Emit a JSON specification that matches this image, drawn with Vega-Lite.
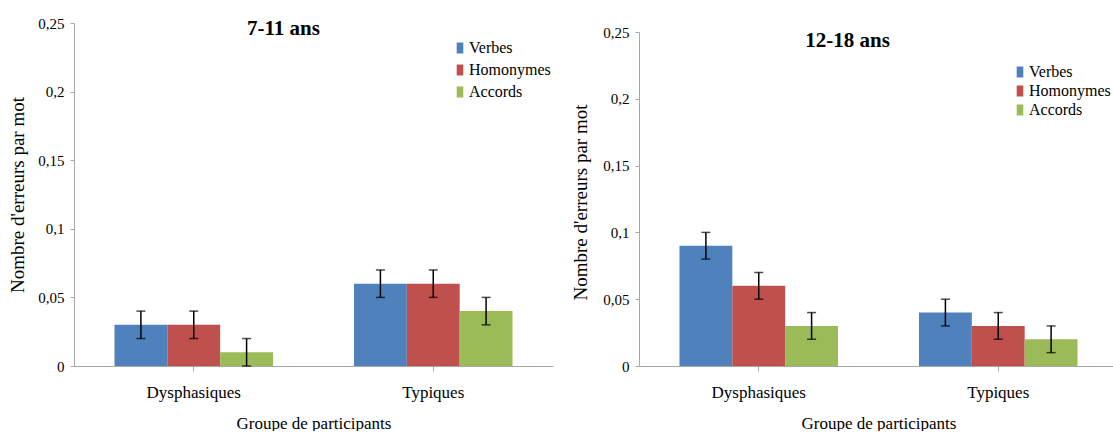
{
  "$schema": "https://vega.github.io/schema/vega-lite/v6.json",
  "padding": {"left": 8, "top": 16, "right": 0, "bottom": 0},
  "background": "white",
  "spacing": 18,
  "config": {
    "font": "Liberation Serif",
    "view": {"stroke": null},
    "axis": {"labelColor": "black", "titleColor": "black", "domainColor": "#A6A6A6", "tickColor": "#A6A6A6", "grid": false, "titleFontWeight": "normal", "labelFont": "Liberation Serif", "titleFont": "Liberation Serif"},
    "legend": {"labelFont": "Liberation Serif", "labelColor": "black"},
    "style": {"guide-label": {"font": "Liberation Serif"}, "guide-title": {"font": "Liberation Serif"}}
  },
  "datasets": {
    "d": [
      {"panel": "7-11", "groupe": "Dysphasiques", "type": "Verbes", "valeur": 0.03, "bas": 0.02, "haut": 0.04},
      {"panel": "7-11", "groupe": "Dysphasiques", "type": "Homonymes", "valeur": 0.03, "bas": 0.02, "haut": 0.04},
      {"panel": "7-11", "groupe": "Dysphasiques", "type": "Accords", "valeur": 0.01, "bas": 0.0, "haut": 0.02},
      {"panel": "7-11", "groupe": "Typiques", "type": "Verbes", "valeur": 0.06, "bas": 0.05, "haut": 0.07},
      {"panel": "7-11", "groupe": "Typiques", "type": "Homonymes", "valeur": 0.06, "bas": 0.05, "haut": 0.07},
      {"panel": "7-11", "groupe": "Typiques", "type": "Accords", "valeur": 0.04, "bas": 0.03, "haut": 0.05},
      {"panel": "12-18", "groupe": "Dysphasiques", "type": "Verbes", "valeur": 0.09, "bas": 0.08, "haut": 0.10},
      {"panel": "12-18", "groupe": "Dysphasiques", "type": "Homonymes", "valeur": 0.06, "bas": 0.05, "haut": 0.07},
      {"panel": "12-18", "groupe": "Dysphasiques", "type": "Accords", "valeur": 0.03, "bas": 0.02, "haut": 0.04},
      {"panel": "12-18", "groupe": "Typiques", "type": "Verbes", "valeur": 0.04, "bas": 0.03, "haut": 0.05},
      {"panel": "12-18", "groupe": "Typiques", "type": "Homonymes", "valeur": 0.03, "bas": 0.02, "haut": 0.04},
      {"panel": "12-18", "groupe": "Typiques", "type": "Accords", "valeur": 0.02, "bas": 0.01, "haut": 0.03}
    ]
  },
  "hconcat": [
    {
      "width": 479,
      "height": 343,
      "data": {"name": "d"},
      "transform": [{"filter": "datum.panel === '7-11'"}],
      "title": {"text": "7-11 ans", "frame": "group", "anchor": "middle", "offset": 0, "baseline": "alphabetic", "dy": 40, "dx": -30, "font": "Liberation Serif", "fontSize": 21, "fontWeight": "bold", "color": "black"},
      "encoding": {
        "x": {"field": "groupe", "type": "nominal", "sort": ["Dysphasiques", "Typiques"], "scale": {"paddingInner": 0, "paddingOuter": 0},
          "axis": {"title": "Groupe de participants", "labelAngle": 0, "labelFont": "Liberation Serif", "titleFont": "Liberation Serif", "labelFontSize": 17, "titleFontSize": 17, "tickSize": 5, "labelPadding": 13, "titlePadding": 15}},
        "xOffset": {"field": "type", "sort": ["Verbes", "Homonymes", "Accords"], "scale": {"paddingInner": 0, "paddingOuter": 0.766}}
      },
      "layer": [
        {
          "mark": {"type": "bar"},
          "encoding": {
            "y": {"field": "valeur", "type": "quantitative", "scale": {"domain": [0, 0.25], "nice": false},
              "axis": {"title": "Nombre d'erreurs par mot", "labelFont": "Liberation Serif", "titleFont": "Liberation Serif", "values": [0, 0.05, 0.1, 0.15, 0.2, 0.25], "labelExpr": "replace(format(datum.value, '~g'), '.', ',')", "tickSize": 4, "labelPadding": 6, "labelFontSize": 15, "titleFontSize": 19, "titleX": -57, "titleY": 171.5, "titleBaseline": "middle", "titleAngle": -90, "titleAlign": "center"}},
            "color": {"field": "type", "type": "nominal", "sort": ["Verbes", "Homonymes", "Accords"],
              "scale": {"domain": ["Verbes", "Homonymes", "Accords"], "range": ["#4F81BD", "#C0504D", "#9BBB59"]},
              "legend": {"orient": "none", "legendX": 378, "legendY": 17, "title": null, "labelFont": "Liberation Serif", "symbolType": "M-0.6,-1H0.6V1H-0.6Z", "symbolSize": 121, "labelFontSize": 16, "rowPadding": 6, "labelOffset": 1, "padding": 0, "symbolStrokeWidth": 0}}
          }
        },
        {
          "mark": {"type": "rule", "color": "black", "strokeWidth": 1.5},
          "encoding": {"y": {"field": "bas", "type": "quantitative"}, "y2": {"field": "haut"}}
        },
        {
          "mark": {"type": "tick", "orient": "horizontal", "size": 9, "thickness": 1.5, "color": "black"},
          "encoding": {"y": {"field": "haut", "type": "quantitative"}}
        },
        {
          "mark": {"type": "tick", "orient": "horizontal", "size": 9, "thickness": 1.5, "color": "black"},
          "encoding": {"y": {"field": "bas", "type": "quantitative"}}
        }
      ]
    },
    {
      "width": 479,
      "height": 343,
      "data": {"name": "d"},
      "transform": [{"filter": "datum.panel === '12-18'"}],
      "title": {"text": "12-18 ans", "frame": "group", "anchor": "middle", "offset": 0, "baseline": "alphabetic", "dy": 45, "dx": -31, "font": "Liberation Serif", "fontSize": 21, "fontWeight": "bold", "color": "black"},
      "encoding": {
        "x": {"field": "groupe", "type": "nominal", "sort": ["Dysphasiques", "Typiques"], "scale": {"paddingInner": 0, "paddingOuter": 0},
          "axis": {"title": "Groupe de participants", "labelAngle": 0, "labelFont": "Liberation Serif", "titleFont": "Liberation Serif", "labelFontSize": 17, "titleFontSize": 17, "tickSize": 5, "labelPadding": 13, "titlePadding": 15}},
        "xOffset": {"field": "type", "sort": ["Verbes", "Homonymes", "Accords"], "scale": {"paddingInner": 0, "paddingOuter": 0.766}}
      },
      "layer": [
        {
          "mark": {"type": "bar"},
          "encoding": {
            "y": {"field": "valeur", "type": "quantitative", "scale": {"domain": [0, 0.25], "nice": false, "range": [343, 9]},
              "axis": {"title": "Nombre d'erreurs par mot", "labelFont": "Liberation Serif", "titleFont": "Liberation Serif", "values": [0, 0.05, 0.1, 0.15, 0.2, 0.25], "labelExpr": "replace(format(datum.value, '~g'), '.', ',')", "tickSize": 4, "labelPadding": 6, "labelFontSize": 15, "titleFontSize": 19, "titleX": -59, "titleY": 179, "titleBaseline": "middle", "titleAngle": -90, "titleAlign": "center"}},
            "color": {"field": "type", "type": "nominal", "sort": ["Verbes", "Homonymes", "Accords"],
              "scale": {"domain": ["Verbes", "Homonymes", "Accords"], "range": ["#4F81BD", "#C0504D", "#9BBB59"]},
              "legend": {"orient": "none", "legendX": 373, "legendY": 41, "title": null, "labelFont": "Liberation Serif", "symbolType": "M-0.6,-1H0.6V1H-0.6Z", "symbolSize": 121, "labelFontSize": 16, "rowPadding": 3, "labelOffset": 1, "padding": 0, "symbolStrokeWidth": 0}}
          }
        },
        {
          "mark": {"type": "rule", "color": "black", "strokeWidth": 1.5},
          "encoding": {"y": {"field": "bas", "type": "quantitative"}, "y2": {"field": "haut"}}
        },
        {
          "mark": {"type": "tick", "orient": "horizontal", "size": 9, "thickness": 1.5, "color": "black"},
          "encoding": {"y": {"field": "haut", "type": "quantitative"}}
        },
        {
          "mark": {"type": "tick", "orient": "horizontal", "size": 9, "thickness": 1.5, "color": "black"},
          "encoding": {"y": {"field": "bas", "type": "quantitative"}}
        }
      ]
    }
  ],
  "resolve": {"scale": {"color": "independent", "y": "independent"}, "legend": {"color": "independent"}}
}
